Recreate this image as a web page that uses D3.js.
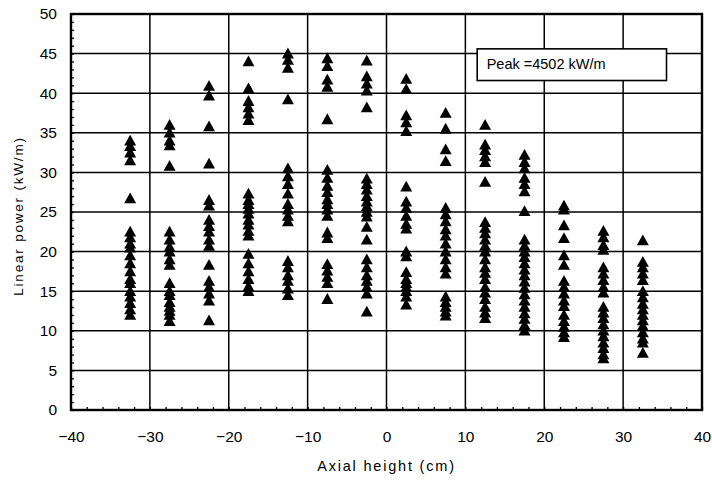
<!DOCTYPE html>
<html>
<head>
<meta charset="utf-8">
<script src="https://cdn.jsdelivr.net/npm/d3@7"></script>
<style>
  body { margin: 0; background: #fff; }
  svg { font-family: "Liberation Sans", Arial, sans-serif; }
</style>
</head>
<body>
<svg id="chart" width="712" height="480"></svg>
<script>
// Axial positions of the measurement columns (cm)
var heights = [-32.5, -27.5, -22.5, -17.5, -12.5, -7.5, -2.5, 2.5, 7.5, 12.5, 17.5, 22.5, 27.5, 32.5];

// Linear power readings (kW/m), one array per column
var power = [
    [34, 33.3, 32.5, 31.5, 26.7, 22.5, 21.8, 21, 20.5, 19.5, 18.5, 17.5, 16.5, 16, 15, 14.3, 13.5, 12.7, 12],
    [36, 35, 34, 33.4, 30.8, 22.5, 21.5, 20.6, 20, 19, 18.3, 16, 15, 14.5, 13.6, 13, 12.5, 12, 11.2],
    [40.9, 39.7, 35.8, 31.1, 26.5, 25.8, 24, 23.2, 22.5, 21.5, 20.7, 18.3, 16.3, 15.5, 14.7, 13.8, 11.3],
    [44, 40.6, 39, 38.2, 37.4, 36.6, 27.3, 26.5, 26, 25.4, 24.8, 24, 23.4, 22.6, 22, 19.7, 18.5, 17.5, 16.5, 15.6, 15],
    [45, 44.2, 43.2, 39.2, 30.5, 29.5, 28.5, 27.3, 26, 25.3, 24.5, 23.8, 18.8, 18, 17, 16.3, 15.3, 14.5],
    [44.4, 43.4, 41.7, 40.8, 36.7, 30.3, 29.3, 28.3, 27.5, 26.6, 26, 25.3, 24.5, 22.4, 21.7, 18.4, 17.6, 16.8, 16, 14],
    [44.1, 42.1, 41.2, 40.3, 38.2, 29.2, 28.5, 27.8, 27, 26.3, 25.7, 25, 24.4, 23.1, 21.5, 19, 18, 17, 16.3, 15.5, 14.7, 12.4],
    [41.8, 40.5, 37.2, 36.3, 35.2, 28.2, 26.3, 25.5, 24.5, 23.5, 22.9, 20, 19.4, 17.4, 16.5, 16, 15.5, 15, 14.3, 13.3],
    [37.5, 35.5, 32.9, 31.4, 25.5, 24.7, 23.8, 22.8, 22, 21, 20, 19, 18, 17.2, 14.3, 13.6, 13, 12.4, 11.9],
    [36, 33.5, 32.8, 32, 31.3, 28.8, 23.7, 23, 22.3, 21.5, 20.7, 20, 19, 18, 17.3, 16.5, 15.5, 14.8, 14, 13, 12.3, 11.6],
    [32.2, 31.3, 30.5, 29.3, 28.5, 27.6, 25.1, 21.5, 20.7, 20, 19.3, 18.5, 17.7, 17, 16.2, 15.4, 14.6, 13.8, 13, 12.2, 11.5, 10.7, 10],
    [25.8, 25.3, 23.3, 21.7, 19.5, 18.3, 16.3, 15.5, 14.7, 13.8, 13.1, 12, 11.2, 10.5, 9.8, 9.2],
    [22.6, 21.8, 20.8, 20.2, 18, 17.2, 16.4, 15.5, 14.8, 13, 12.3, 11.6, 10.8, 10, 9.3, 8.5, 7.8, 7, 6.5],
    [21.4, 18.7, 18, 17.2, 16.4, 15, 14.2, 13.4, 12.7, 12, 11.3, 10.6, 9.8, 9, 8.5, 7.2]
];

var xTicks = [-40, -30, -20, -10, 0, 10, 20, 30, 40];
var yTicks = [0, 5, 10, 15, 20, 25, 30, 35, 40, 45, 50];
var peakLabel = "Peak =4502 kW/m";

var points = [];
heights.forEach(function(h, i) {
    power[i].forEach(function(p) { points.push({x: h, y: p}); });
});

var svg = d3.select("#chart");
var margin = {top: 14, right: 10, bottom: 70, left: 71};
var width = 702 - margin.left;
var height = 410 - margin.top;

var g = svg.append("g")
    .attr("transform", "translate(" + margin.left + "," + margin.top + ")");

var x = d3.scaleLinear().domain([-40, 40]).range([0, width]);
var y = d3.scaleLinear().domain([0, 50]).range([height, 0]);

// grid lines
g.selectAll(".vgrid")
    .data(xTicks)
    .enter().append("line")
    .attr("x1", function(d) { return x(d); })
    .attr("x2", function(d) { return x(d); })
    .attr("y1", 0).attr("y2", height)
    .attr("stroke", "#000").attr("stroke-width", 1.5);

g.selectAll(".hgrid")
    .data(yTicks)
    .enter().append("line")
    .attr("y1", function(d) { return y(d); })
    .attr("y2", function(d) { return y(d); })
    .attr("x1", 0).attr("x2", width)
    .attr("stroke", "#000").attr("stroke-width", 1.5);

// minor ticks, pointing inward
g.append("g")
    .attr("transform", "translate(0," + height + ")")
    .call(d3.axisBottom(x).tickValues(d3.range(-40, 41, 2)).tickSize(-3).tickFormat(""))
    .call(function(s) { s.select(".domain").remove(); s.selectAll("line").attr("stroke-width", 1.3); });

g.append("g")
    .call(d3.axisLeft(y).tickValues(d3.range(0, 51, 1)).tickSize(-3).tickFormat(""))
    .call(function(s) { s.select(".domain").remove(); s.selectAll("line").attr("stroke-width", 1.3); });

// frame
g.append("rect")
    .attr("width", width).attr("height", height)
    .attr("fill", "none").attr("stroke", "#000").attr("stroke-width", 2.4);

// tick labels
var xAxis = g.append("g")
    .attr("transform", "translate(0," + height + ")")
    .call(d3.axisBottom(x).tickValues(xTicks).tickSize(0).tickPadding(21));
xAxis.select(".domain").remove();
xAxis.selectAll("text").attr("font-size", 15.5).attr("fill", "#000")
    .attr("font-family", "Liberation Sans, Arial, sans-serif");

var yAxis = g.append("g")
    .call(d3.axisLeft(y).tickValues(yTicks).tickSize(0).tickPadding(14));
yAxis.select(".domain").remove();
yAxis.selectAll("text").attr("font-size", 15.5).attr("fill", "#000")
    .attr("font-family", "Liberation Sans, Arial, sans-serif");

// axis titles
svg.append("text")
    .attr("x", margin.left + width / 2)
    .attr("y", 471)
    .attr("text-anchor", "middle")
    .attr("font-size", 14.5)
    .attr("letter-spacing", 1.8)
    .text("Axial height (cm)");

svg.append("text")
    .attr("transform", "translate(23," + (margin.top + height / 2 + 4) + ") rotate(-90)")
    .attr("text-anchor", "middle")
    .attr("font-size", 13.5)
    .attr("letter-spacing", 1.8)
    .text("Linear power (kW/m)");

// peak label box
g.append("rect")
    .attr("x", x(11.5)).attr("y", y(45.6))
    .attr("width", x(35.5) - x(11.5)).attr("height", y(41.6) - y(45.6))
    .attr("fill", "#fff").attr("stroke", "#000").attr("stroke-width", 1.6);

g.append("text")
    .attr("x", x(12.7)).attr("y", y(43))
    .attr("font-size", 14.5)
    .text(peakLabel);

// triangle markers
var tri = "M0,-6L6,4.8L-6,4.8Z";
g.selectAll(".pt")
    .data(points)
    .enter().append("path")
    .attr("class", "pt")
    .attr("d", tri)
    .attr("transform", function(d) { return "translate(" + x(d.x) + "," + y(d.y) + ")"; })
    .attr("fill", "#000");
</script>
</body>
</html>
